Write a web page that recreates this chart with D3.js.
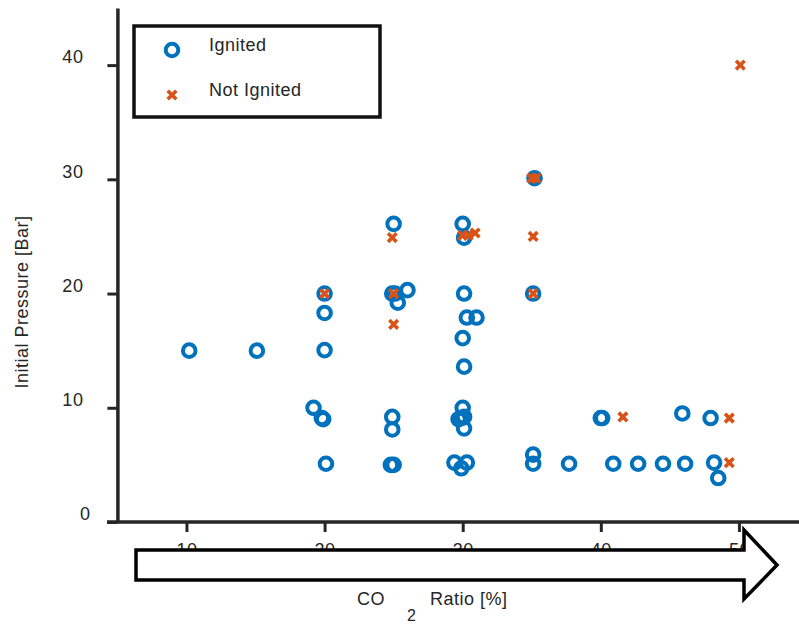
<!DOCTYPE html>
<html>
<head>
<meta charset="utf-8">
<script src="https://cdn.jsdelivr.net/npm/d3@7"></script>
<style>
    body { margin: 0; background: #fff; }
    svg { display: block; }
    text { font-family: 'Liberation Sans', Arial, sans-serif; font-size: 18px; fill: #262626; letter-spacing: 0.5px; }
</style>
</head>
<body>
<svg width="799" height="625"></svg>
<script>

//  Data: [CO2 ratio %, initial pressure bar]
const ignited = [
    [10.2, 15], [15.1, 15],
    [20.0, 20.0], [20.0, 18.3], [20.0, 15.05], [19.2, 10.0], [19.8, 9.1], [19.9, 9.0], [20.1, 5.1],
    [25.0, 26.1], [24.9, 20.0], [25.1, 20.0], [25.3, 19.2], [26.0, 20.3], [24.9, 9.2], [24.9, 8.1], [24.8, 5.0], [25.0, 5.0],
    [30.0, 26.1], [30.1, 24.9], [30.1, 20.0], [30.3, 17.9], [31.0, 17.9], [30.0, 16.1], [30.1, 13.6], [30.0, 10.0],
    [29.7, 9.0], [29.9, 9.1], [30.1, 9.2], [30.1, 8.2], [29.4, 5.2], [30.3, 5.2], [29.9, 4.7],
    [35.2, 30.1], [35.1, 20.0], [35.1, 5.9], [35.1, 5.1], [37.7, 5.1],
    [40.0, 9.1], [40.1, 9.1], [40.9, 5.1], [42.7, 5.1], [44.5, 5.1], [46.1, 5.1], [45.9, 9.5],
    [47.95, 9.1], [48.2, 5.2], [48.5, 3.85]
];
const notIgnited = [
    [20.0, 20.0], [24.9, 24.9], [25.0, 20.0], [25.0, 17.3],
    [30.0, 25.1], [30.4, 25.1], [30.9, 25.3],
    [35.0, 30.1], [35.3, 30.1], [35.1, 25.0], [35.1, 20.0],
    [41.6, 9.2], [49.3, 9.1], [49.3, 5.2], [50.1, 40.0]
];
const xTicks = [10, 20, 30, 40, 50];
const yTicks = [0, 10, 20, 30, 40];
const legendLabels = ['Ignited', 'Not Ignited'];

const blue = '#0072BD';
const orange = '#D95319';
const axisColor = '#262626';

const svgElem = d3.select('svg');

// ======================= SCALES ===============================
const xScale = d3.scaleLinear().domain([5, 55]).range([117.4, 808]);
const yScale = d3.scaleLinear().domain([0, 45]).range([522, 8]);

// ======================= Y-AXIS ===============================
const yAxis = svgElem.append('g')
    .attr('transform', `translate(${xScale(5)}, 0)`)
    .call(d3.axisLeft(yScale).tickValues(yTicks).tickSize(10).tickSizeOuter(0));
yAxis.select('.domain').attr('stroke', axisColor).attr('stroke-width', 3.5);
yAxis.selectAll('.tick line').attr('stroke', axisColor).attr('stroke-width', 3);
//  labels sit a bit above their ticks, and "0" further right
yAxis.selectAll('.tick text')
    .attr('x', d => d === 0 ? -27 : -34)
    .attr('dy', '-0.12em');

// ======================= X-AXIS ===============================
const xAxis = svgElem.append('g')
    .attr('transform', `translate(0, ${yScale(0)})`)
    .call(d3.axisBottom(xScale).tickValues(xTicks).tickSize(10).tickSizeOuter(0));
xAxis.select('.domain').attr('d', `M107,0H799`).attr('stroke', axisColor).attr('stroke-width', 3.5);
xAxis.selectAll('.tick line').attr('stroke', axisColor).attr('stroke-width', 3);
xAxis.selectAll('.tick text').attr('y', 21).attr('dy', '0.71em');

svgElem.selectAll('.tick text')
    .style('font-family', "'Liberation Sans', Arial, sans-serif")
    .style('font-size', '18px')
    .attr('fill', axisColor);

// ======================= ARROW (over the x tick labels) ===============================
const arrowLeft = 136, arrowBase = 744, arrowTip = 777;
const arrowTop = 550, arrowBottom = 580, headTop = 530, headBottom = 599;
svgElem.append('path')
    .attr('d', `M${arrowLeft},${arrowTop}H${arrowBase}V${headTop}L${arrowTip},${(arrowTop + arrowBottom) / 2}L${arrowBase},${headBottom}V${arrowBottom}H${arrowLeft}Z`)
    .attr('fill', '#fff')
    .attr('stroke', '#000')
    .attr('stroke-width', 3.5)
    .attr('stroke-linejoin', 'miter');

// ======================= POINTS ===============================
svgElem.append('g')
    .selectAll('circle')
    .data(ignited)
    .enter()
    .append('circle')
    .attr('cx', d => xScale(d[0]))
    .attr('cy', d => yScale(d[1]))
    .attr('r', 6.3)
    .attr('fill', 'none')
    .attr('stroke', blue)
    .attr('stroke-width', 4);

const crossPath = 'M-4.3,-4.3L4.3,4.3M-4.3,4.3L4.3,-4.3';
svgElem.append('g')
    .selectAll('path')
    .data(notIgnited)
    .enter()
    .append('path')
    .attr('transform', d => `translate(${xScale(d[0])}, ${yScale(d[1])})`)
    .attr('d', crossPath)
    .attr('stroke', orange)
    .attr('stroke-width', 3.6);

// ======================= LEGEND ===============================
const legend = svgElem.append('g');
legend.append('rect')
    .attr('x', 134).attr('y', 26)
    .attr('width', 246).attr('height', 91)
    .attr('fill', '#fff')
    .attr('stroke', '#111')
    .attr('stroke-width', 3.5);
legend.append('circle')
    .attr('cx', 172).attr('cy', 50).attr('r', 6.3)
    .attr('fill', 'none').attr('stroke', blue).attr('stroke-width', 4);
legend.append('path')
    .attr('transform', 'translate(172, 95)')
    .attr('d', crossPath)
    .attr('stroke', orange).attr('stroke-width', 3.6);
legend.selectAll('text.lbl')
    .data(legendLabels)
    .enter()
    .append('text')
    .attr('class', 'lbl')
    .attr('x', 209)
    .attr('y', (d, i) => 51 + i * 45)
    .attr('fill', '#111')
    .text(d => d);

// ======================= TITLES ===============================
svgElem.append('text')
    .attr('text-anchor', 'middle')
    .attr('transform', 'translate(28, 302) rotate(-90)')
    .text('Initial Pressure [Bar]');

svgElem.append('text').attr('x', 357).attr('y', 605).text('CO');
svgElem.append('text').attr('x', 407).attr('y', 621).style('font-size', '16px').text('2');
svgElem.append('text').attr('x', 430).attr('y', 605).text('Ratio [%]');

</script>
</body>
</html>
